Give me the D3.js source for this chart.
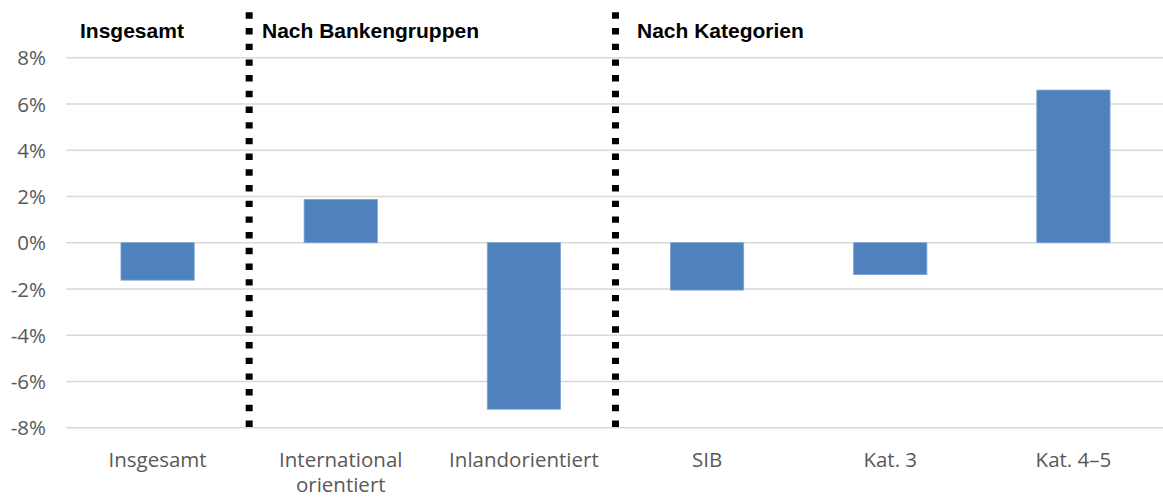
<!DOCTYPE html>
<html>
<head>
<meta charset="utf-8">
<script src="https://cdn.jsdelivr.net/npm/d3@7"></script>
<style>
  body { margin: 0; background: #fff; }
</style>
</head>
<body>
<script>
// data
var categories = ["Insgesamt", "International orientiert", "Inlandorientiert", "SIB", "Kat. 3", "Kat. 4–5"];
var values = [-1.62, 1.87, -7.2, -2.05, -1.38, 6.6];
var yTicks = [-8, -6, -4, -2, 0, 2, 4, 6, 8];
var groupTitles = ["Insgesamt", "Nach Bankengruppen", "Nach Kategorien"];
var groupStarts = [0, 1, 3];   // index of first category in each group

var width = 1163, height = 498;
var plotLeft = 66, plotRight = 1165, plotTop = 57.7, plotBottom = 427.7;

var svg = d3.select("body")
  .append("svg")
  .attr("width", width)
  .attr("height", height);

var x = d3.scaleBand()
  .domain(categories)
  .range([plotLeft, plotRight])
  .paddingInner(0.6)
  .paddingOuter(0.3);

var y = d3.scaleLinear()
  .domain([-8, 8])
  .range([plotBottom, plotTop]);

// gridlines
svg.selectAll(".grid")
  .data(yTicks)
  .enter()
  .append("line")
  .attr("x1", plotLeft)
  .attr("x2", width)
  .attr("y1", function(d) { return y(d); })
  .attr("y2", function(d) { return y(d); })
  .style("stroke", "#d9d9d9")
  .style("stroke-width", 1.5);

// y axis labels
var yAxis = d3.axisLeft(y)
  .tickValues(yTicks)
  .tickSize(0)
  .tickPadding(0)
  .tickFormat(function(d) { return d + "%"; });

svg.append("g")
  .attr("transform", "translate(46,0)")
  .call(yAxis)
  .call(function(g) { g.select(".domain").remove(); })
  .selectAll("text")
  .attr("dy", "0.35em")
  .style("font-family", "'Open Sans', sans-serif")
  .style("font-size", "20.5px")
  .style("fill", "#595959");

// bars
svg.selectAll(".bar")
  .data(values)
  .enter()
  .append("rect")
  .attr("x", function(d, i) { return x(categories[i]); })
  .attr("width", x.bandwidth())
  .attr("y", function(d) { return y(Math.max(0, d)); })
  .attr("height", function(d) { return Math.abs(y(d) - y(0)); })
  .attr("fill", "#4f81bd")
  .attr("stroke", "#7ea3d2")
  .attr("stroke-width", 0.8);

// category labels
var step = x.step();
var cat = svg.selectAll(".cat")
  .data(categories)
  .enter()
  .append("text")
  .attr("x", function(d) { return x(d) + x.bandwidth() / 2; })
  .attr("y", 467)
  .attr("text-anchor", "middle")
  .style("font-family", "'Open Sans', sans-serif")
  .style("font-size", "20.5px")
  .style("fill", "#595959")
  .text(function(d) { return d; });

// wrap long labels
cat.each(function(d) {
  var t = d3.select(this);
  if (this.getComputedTextLength() <= step * 0.92) return;
  var words = d.split(" ");
  var cx = t.attr("x");
  t.text(null);
  words.forEach(function(w, i) {
    t.append("tspan")
      .attr("x", cx)
      .attr("dy", i === 0 ? 0 : 25)
      .text(w);
  });
});

// dotted separators between groups
var seps = groupStarts.slice(1).map(function(i) { return x(categories[i]) - x.step() * x.paddingInner() / 2; });

svg.selectAll(".sep")
  .data(seps)
  .enter()
  .append("line")
  .attr("x1", function(d) { return d; })
  .attr("x2", function(d) { return d; })
  .attr("y1", 12.3)
  .attr("y2", 432)
  .style("stroke", "#000")
  .style("stroke-width", 7)
  .style("stroke-dasharray", "6.4 9.3");

// group headers
var headX = [80, 262, 637];
svg.selectAll(".head")
  .data(groupTitles)
  .enter()
  .append("text")
  .attr("x", function(d, i) { return headX[i]; })
  .attr("y", 38)
  .style("font-family", "'Liberation Sans', Arial, sans-serif")
  .style("font-weight", "bold")
  .style("font-size", "21px")
  .style("fill", "#000")
  .text(function(d) { return d; });
</script>
</body>
</html>
